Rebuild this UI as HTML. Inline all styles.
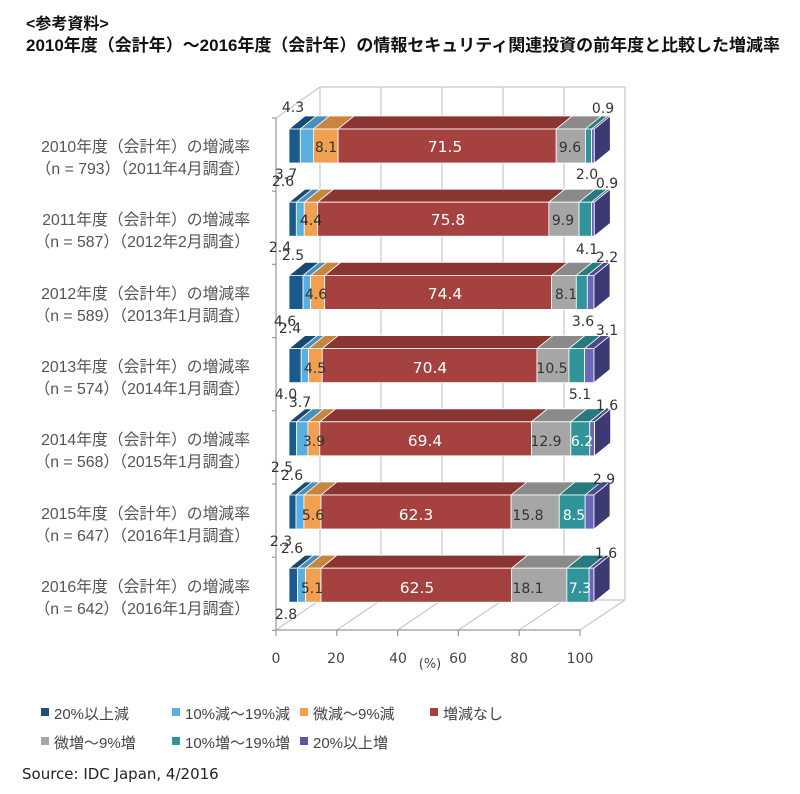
<!DOCTYPE html>
<html><head><meta charset="utf-8"><style>
body{margin:0;background:#fff;width:800px;height:794px;overflow:hidden}
svg{display:block}
.t{font-family:"DejaVu Sans","Liberation Sans","Noto Sans CJK JP",sans-serif}
.j{font-family:"Liberation Sans","Noto Sans CJK JP",sans-serif}
</style></head><body>
<svg id="s" width="800" height="794" xmlns="http://www.w3.org/2000/svg">
<text x="26" y="29" class="j" font-size="16" font-weight="bold" fill="#111">&lt;参考資料&gt;</text>
<text x="26" y="51" class="j" font-size="17" font-weight="bold" fill="#111" textLength="754" lengthAdjust="spacingAndGlyphs">2010年度（会計年）～2016年度（会計年）の情報セキュリティ関連投資の前年度と比較した増減率</text>
<g id="grid" stroke="#c8c8c8" stroke-width="1.2" fill="none"></g>
<g id="bars"></g>
<g class="j" font-size="15.8" fill="#555" text-anchor="end">
<text x="250" y="152">2010年度（会計年）の増減率</text><text x="250" y="174">（n = 793）（2011年4月調査）</text>
<text x="250" y="225">2011年度（会計年）の増減率</text><text x="250" y="247">（n = 587）（2012年2月調査）</text>
<text x="250" y="299">2012年度（会計年）の増減率</text><text x="250" y="321">（n = 589）（2013年1月調査）</text>
<text x="250" y="372">2013年度（会計年）の増減率</text><text x="250" y="394">（n = 574）（2014年1月調査）</text>
<text x="250" y="445">2014年度（会計年）の増減率</text><text x="250" y="467">（n = 568）（2015年1月調査）</text>
<text x="250" y="519">2015年度（会計年）の増減率</text><text x="250" y="541">（n = 647）（2016年1月調査）</text>
<text x="250" y="592">2016年度（会計年）の増減率</text><text x="250" y="614">（n = 642）（2016年1月調査）</text>
</g>
<g class="t" font-size="14" fill="#444" text-anchor="middle">
<text x="276" y="663">0</text><text x="336" y="663">20</text><text x="398" y="663">40</text><text x="458" y="663">60</text><text x="519" y="663">80</text><text x="580" y="663">100</text>
<text x="430" y="668" font-size="13">(%)</text>
</g>
<g class="t" font-size="14" fill="#333" text-anchor="middle">
<text x="293" y="112">4.3</text><text x="286" y="179">3.7</text><text x="326" y="152">8.1</text><text x="445" y="152" fill="#fff" font-size="15.5">71.5</text><text x="570" y="152">9.6</text><text x="587" y="179">2.0</text><text x="603" y="113">0.9</text>
<text x="283" y="186">2.6</text><text x="280" y="252">2.4</text><text x="311" y="225" fill="#222">4.4</text><text x="448" y="225" fill="#fff" font-size="15.5">75.8</text><text x="563" y="225">9.9</text><text x="587" y="254">4.1</text><text x="607" y="188">0.9</text>
<text x="293" y="260">2.5</text><text x="285" y="326">4.6</text><text x="316" y="299">4.6</text><text x="445" y="299" fill="#fff" font-size="15.5">74.4</text><text x="566" y="299">8.1</text><text x="583" y="326">3.6</text><text x="607" y="262">2.2</text>
<text x="290" y="333">2.4</text><text x="286" y="399">4.0</text><text x="315" y="373">4.5</text><text x="430" y="373" fill="#fff" font-size="15.5">70.4</text><text x="552" y="373">10.5</text><text x="580" y="399">5.1</text><text x="607" y="335">3.1</text>
<text x="300" y="407">3.7</text><text x="282" y="472">2.5</text><text x="314" y="446">3.9</text><text x="425" y="446" fill="#fff" font-size="15.5">69.4</text><text x="546" y="446">12.9</text><text x="582" y="446" fill="#fff">6.2</text><text x="607" y="410">1.6</text>
<text x="292" y="480">2.6</text><text x="281" y="546">2.3</text><text x="313" y="520">5.6</text><text x="416" y="520" fill="#fff" font-size="15.5">62.3</text><text x="528" y="520">15.8</text><text x="574" y="520" fill="#fff">8.5</text><text x="604" y="484">2.9</text>
<text x="292" y="553">2.6</text><text x="286" y="619">2.8</text><text x="312" y="593">5.1</text><text x="417" y="593" fill="#fff" font-size="15.5">62.5</text><text x="528" y="593">18.1</text><text x="580" y="593" fill="#fff">7.3</text><text x="606" y="558">1.6</text>
</g>
<g class="j" font-size="15" fill="#444">
<rect x="41" y="708" width="8" height="8" fill="#1b4f82"/><text x="54" y="719">20%以上減</text>
<rect x="172" y="708" width="8" height="8" fill="#5aafe0"/><text x="185" y="719">10%減～19%減</text>
<rect x="300" y="708" width="8" height="8" fill="#f0a050"/><text x="313" y="719">微減～9%減</text>
<rect x="430" y="708" width="8" height="8" fill="#a5423f"/><text x="443" y="719">増減なし</text>
<rect x="41" y="737" width="8" height="8" fill="#a6a6a6"/><text x="54" y="748">微増～9%増</text>
<rect x="172" y="737" width="8" height="8" fill="#31949a"/><text x="185" y="748">10%増～19%増</text>
<rect x="300" y="737" width="8" height="8" fill="#5a56a6"/><text x="313" y="748">20%以上増</text>
</g>
<text x="22" y="779" class="t" font-size="15" fill="#222">Source: IDC Japan, 4/2016</text>
</svg>
<script>
var NS="http://www.w3.org/2000/svg";
function el(p,t,a){var e=document.createElementNS(NS,t);for(var k in a)e.setAttribute(k,a[k]);p.appendChild(e);return e;}
var g=document.getElementById('grid');
for(var k=0;k<=5;k++){var bx=320+61*k,fx=276+60.8*k;
 el(g,'line',{x1:bx,y1:87,x2:bx,y2:600});
 el(g,'line',{x1:fx,y1:630,x2:bx,y2:600});
 el(g,'line',{x1:fx,y1:630,x2:fx,y2:636,stroke:'#999'});}
el(g,'line',{x1:320,y1:87,x2:625,y2:87});
el(g,'line',{x1:320,y1:600,x2:625,y2:600});
el(g,'line',{x1:276,y1:118,x2:320,y2:87});
el(g,'line',{x1:276,y1:118,x2:276,y2:630,stroke:'#999'});
el(g,'line',{x1:276,y1:630,x2:580,y2:630,stroke:'#999'});
for(var i=0;i<8;i++){var y=118+73.2*i;el(g,'line',{x1:272,y1:y,x2:276,y2:y,stroke:'#999'});}
var D=[[3.7,4.3,8.1,71.5,9.6,2.0,0.9],[2.4,2.6,4.4,75.8,9.9,4.1,0.9],[4.6,2.5,4.6,74.4,8.1,3.6,2.2],[4.0,2.4,4.5,70.4,10.5,5.1,3.1],[2.5,3.7,3.9,69.4,12.9,6.2,1.6],[2.3,2.6,5.6,62.3,15.8,8.5,2.9],[2.8,2.6,5.1,62.5,18.1,7.3,1.6]];
var F=['#1b5a8c','#5aafe0','#f0a050','#a5423f','#a6a6a6','#31949a','#6b68bb'];
var T=['#164a73','#4a90bb','#c78540','#8a3532','#8a8a8a','#277a7e','#4c4a8a'];
var b=document.getElementById('bars');
var dx=16,dy=-13,h=34,x0=289,sc=3.05;
for(var r=0;r<7;r++){var c=146+73.2*r,yt=c-17,x=x0;
 for(var s=0;s<7;s++){var w=D[r][s]*sc;
  el(b,'polygon',{points:[x,yt,x+dx,yt+dy,x+w+dx,yt+dy,x+w,yt].join(' '),fill:T[s],stroke:'#fff','stroke-width':0.8});
  el(b,'rect',{x:x,y:yt,width:w,height:h,fill:F[s],stroke:'#fff','stroke-width':0.8});
  x+=w;}
 el(b,'polygon',{points:[x,yt,x+dx,yt+dy,x+dx,yt+dy+h,x,yt+h].join(' '),fill:'#3b3a72',stroke:'#fff','stroke-width':0.8});
}
</script>
</body></html>
